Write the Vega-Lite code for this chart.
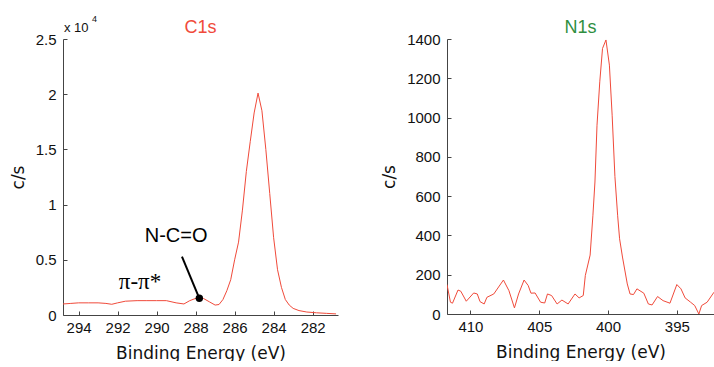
{
  "$schema": "https://vega.github.io/schema/vega-lite/v6.json",
  "background": "white",
  "padding": {"left": 9, "top": 15, "right": 0, "bottom": 0},
  "spacing": 42,
  "config": {
    "view": {"stroke": null},
    "axis": {
      "grid": false,
      "domainColor": "#444",
      "tickColor": "#444",
      "labelColor": "#111",
      "labelFont": "Liberation Sans",
      "labelFontSize": 15,
      "titleFont": "DejaVu Sans",
      "titleFontSize": 17,
      "titleFontWeight": "normal",
      "titleColor": "#111",
      "tickSize": -4
    },
    "axisX": {"labelPadding": 9, "titlePadding": 10},
    "axisY": {"labelPadding": 11, "titlePadding": 8},
    "title": {"font": "Liberation Sans", "fontSize": 18, "fontWeight": "normal"}
  },
  "datasets": {
    "c1s": [
      {"eV": 294.8, "cps": 0.10}, {"eV": 294.4, "cps": 0.105}, {"eV": 294.0, "cps": 0.11},
      {"eV": 293.5, "cps": 0.11}, {"eV": 293.0, "cps": 0.11}, {"eV": 292.6, "cps": 0.105},
      {"eV": 292.3, "cps": 0.097}, {"eV": 292.0, "cps": 0.11}, {"eV": 291.6, "cps": 0.125},
      {"eV": 291.0, "cps": 0.13}, {"eV": 290.5, "cps": 0.13}, {"eV": 290.0, "cps": 0.13},
      {"eV": 289.5, "cps": 0.13}, {"eV": 289.0, "cps": 0.11}, {"eV": 288.6, "cps": 0.10},
      {"eV": 288.3, "cps": 0.13}, {"eV": 287.9, "cps": 0.157}, {"eV": 287.6, "cps": 0.15},
      {"eV": 287.3, "cps": 0.12}, {"eV": 287.0, "cps": 0.09}, {"eV": 286.8, "cps": 0.095},
      {"eV": 286.6, "cps": 0.14}, {"eV": 286.4, "cps": 0.22}, {"eV": 286.2, "cps": 0.32},
      {"eV": 286.0, "cps": 0.50}, {"eV": 285.8, "cps": 0.66}, {"eV": 285.6, "cps": 0.95},
      {"eV": 285.4, "cps": 1.30}, {"eV": 285.2, "cps": 1.57}, {"eV": 285.0, "cps": 1.83},
      {"eV": 284.8, "cps": 2.01}, {"eV": 284.6, "cps": 1.85}, {"eV": 284.4, "cps": 1.50},
      {"eV": 284.2, "cps": 1.10}, {"eV": 284.0, "cps": 0.70}, {"eV": 283.8, "cps": 0.41},
      {"eV": 283.6, "cps": 0.25}, {"eV": 283.4, "cps": 0.14}, {"eV": 283.2, "cps": 0.09},
      {"eV": 283.0, "cps": 0.06}, {"eV": 282.7, "cps": 0.04}, {"eV": 282.3, "cps": 0.027},
      {"eV": 281.8, "cps": 0.02}, {"eV": 281.3, "cps": 0.015}, {"eV": 280.8, "cps": 0.01}
    ],
    "n1s": [
      {"eV": 411.7, "cps": 150}, {"eV": 411.45, "cps": 60}, {"eV": 411.3, "cps": 55},
      {"eV": 410.9, "cps": 122}, {"eV": 410.7, "cps": 116}, {"eV": 410.3, "cps": 65},
      {"eV": 409.76, "cps": 107}, {"eV": 409.5, "cps": 102}, {"eV": 409.3, "cps": 63},
      {"eV": 409.0, "cps": 51}, {"eV": 408.8, "cps": 85}, {"eV": 408.3, "cps": 102},
      {"eV": 407.6, "cps": 173}, {"eV": 407.2, "cps": 119}, {"eV": 406.8, "cps": 31},
      {"eV": 406.5, "cps": 102}, {"eV": 406.1, "cps": 173}, {"eV": 405.8, "cps": 145},
      {"eV": 405.6, "cps": 106}, {"eV": 405.3, "cps": 107}, {"eV": 404.9, "cps": 60},
      {"eV": 404.6, "cps": 56}, {"eV": 404.4, "cps": 102}, {"eV": 404.1, "cps": 94},
      {"eV": 403.7, "cps": 51}, {"eV": 403.35, "cps": 71}, {"eV": 402.9, "cps": 51},
      {"eV": 402.4, "cps": 102}, {"eV": 402.1, "cps": 82}, {"eV": 401.8, "cps": 94},
      {"eV": 401.65, "cps": 196}, {"eV": 401.3, "cps": 300}, {"eV": 401.1, "cps": 500},
      {"eV": 400.95, "cps": 672}, {"eV": 400.8, "cps": 961}, {"eV": 400.6, "cps": 1182},
      {"eV": 400.4, "cps": 1352}, {"eV": 400.15, "cps": 1395}, {"eV": 399.9, "cps": 1267},
      {"eV": 399.7, "cps": 1012}, {"eV": 399.5, "cps": 700}, {"eV": 399.3, "cps": 500},
      {"eV": 399.16, "cps": 383}, {"eV": 398.95, "cps": 290}, {"eV": 398.6, "cps": 153},
      {"eV": 398.4, "cps": 102}, {"eV": 398.15, "cps": 99}, {"eV": 397.9, "cps": 128},
      {"eV": 397.4, "cps": 106}, {"eV": 397.07, "cps": 51}, {"eV": 396.8, "cps": 46},
      {"eV": 396.4, "cps": 89}, {"eV": 396.0, "cps": 68}, {"eV": 395.5, "cps": 55},
      {"eV": 395.0, "cps": 150}, {"eV": 394.7, "cps": 128}, {"eV": 394.4, "cps": 82},
      {"eV": 394.0, "cps": 60}, {"eV": 393.7, "cps": 43}, {"eV": 393.4, "cps": 0},
      {"eV": 393.2, "cps": 43}, {"eV": 392.8, "cps": 60}, {"eV": 392.3, "cps": 111}
    ],
    "pointer": [{"x1": 288.70, "y1": 0.528, "x2": 287.81, "y2": 0.151}],
    "dot": [{"eV": 287.81, "cps": 0.151}],
    "label_ncO": [{"label": "N-C=O", "eV": 289.0, "cps": 0.72}],
    "label_pi": [{"label": "π-π*", "eV": 290.85, "cps": 0.30}],
    "exp": [{"eV": 294.8, "cps": 2.5}]
  },
  "hconcat": [
    {
      "width": 275,
      "height": 276,
      "title": {"text": "C1s", "color": "#f04a3a", "offset": -22},
      "layer": [
        {
          "data": {"name": "c1s"},
          "mark": {"type": "line", "color": "#f04a3a", "strokeWidth": 1, "clip": true},
          "encoding": {
            "x": {"field": "eV", "type": "quantitative",
              "scale": {"domain": [280.7, 294.8], "reverse": true, "nice": false, "zero": false},
              "axis": {"title": "Binding Energy (eV)", "values": [282, 284, 286, 288, 290, 292, 294], "format": "d"}},
            "y": {"field": "cps", "type": "quantitative",
              "scale": {"domain": [0, 2.5], "nice": false},
              "axis": {"title": "c/s", "values": [0, 0.5, 1, 1.5, 2, 2.5], "format": "~g"}}
          }
        },
        {
          "data": {"name": "pointer"},
          "mark": {"type": "rule", "color": "black", "strokeWidth": 2},
          "encoding": {
            "x": {"field": "x1", "type": "quantitative"},
            "y": {"field": "y1", "type": "quantitative"},
            "x2": {"field": "x2"},
            "y2": {"field": "y2"}
          }
        },
        {
          "data": {"name": "dot"},
          "mark": {"type": "point", "filled": true, "color": "black", "size": 55, "opacity": 1},
          "encoding": {
            "x": {"field": "eV", "type": "quantitative"},
            "y": {"field": "cps", "type": "quantitative"}
          }
        },
        {
          "data": {"name": "label_ncO"},
          "mark": {"type": "text", "font": "Liberation Sans", "fontSize": 20, "color": "black", "baseline": "middle", "align": "center"},
          "encoding": {
            "x": {"field": "eV", "type": "quantitative"},
            "y": {"field": "cps", "type": "quantitative"},
            "text": {"field": "label"}
          }
        },
        {
          "data": {"name": "label_pi"},
          "mark": {"type": "text", "font": "Liberation Serif", "fontSize": 23, "color": "black", "baseline": "middle", "align": "center"},
          "encoding": {
            "x": {"field": "eV", "type": "quantitative"},
            "y": {"field": "cps", "type": "quantitative"},
            "text": {"field": "label"}
          }
        },
        {
          "data": {"name": "exp"},
          "mark": {"type": "text", "text": "x 10", "font": "Liberation Sans", "fontSize": 13, "color": "#111", "align": "left", "baseline": "alphabetic", "dx": 1, "dy": -7},
          "encoding": {
            "x": {"field": "eV", "type": "quantitative"},
            "y": {"field": "cps", "type": "quantitative"}
          }
        },
        {
          "data": {"name": "exp"},
          "mark": {"type": "text", "text": "4", "font": "Liberation Sans", "fontSize": 9, "color": "#111", "align": "left", "baseline": "alphabetic", "dx": 29, "dy": -17},
          "encoding": {
            "x": {"field": "eV", "type": "quantitative"},
            "y": {"field": "cps", "type": "quantitative"}
          }
        }
      ]
    },
    {
      "width": 267,
      "height": 275,
      "title": {"text": "N1s", "color": "#2f8f3f", "offset": -5},
      "data": {"name": "n1s"},
      "mark": {"type": "line", "color": "#f04a3a", "strokeWidth": 1, "clip": true},
      "encoding": {
        "x": {"field": "eV", "type": "quantitative",
          "scale": {"domain": [392.3, 411.7], "reverse": true, "nice": false, "zero": false},
          "axis": {"title": "Binding Energy (eV)", "values": [395, 400, 405, 410], "format": "d"}},
        "y": {"field": "cps", "type": "quantitative",
          "scale": {"domain": [0, 1400], "nice": false},
          "axis": {"title": "c/s", "values": [0, 200, 400, 600, 800, 1000, 1200, 1400], "format": "d"}}
      }
    }
  ]
}
